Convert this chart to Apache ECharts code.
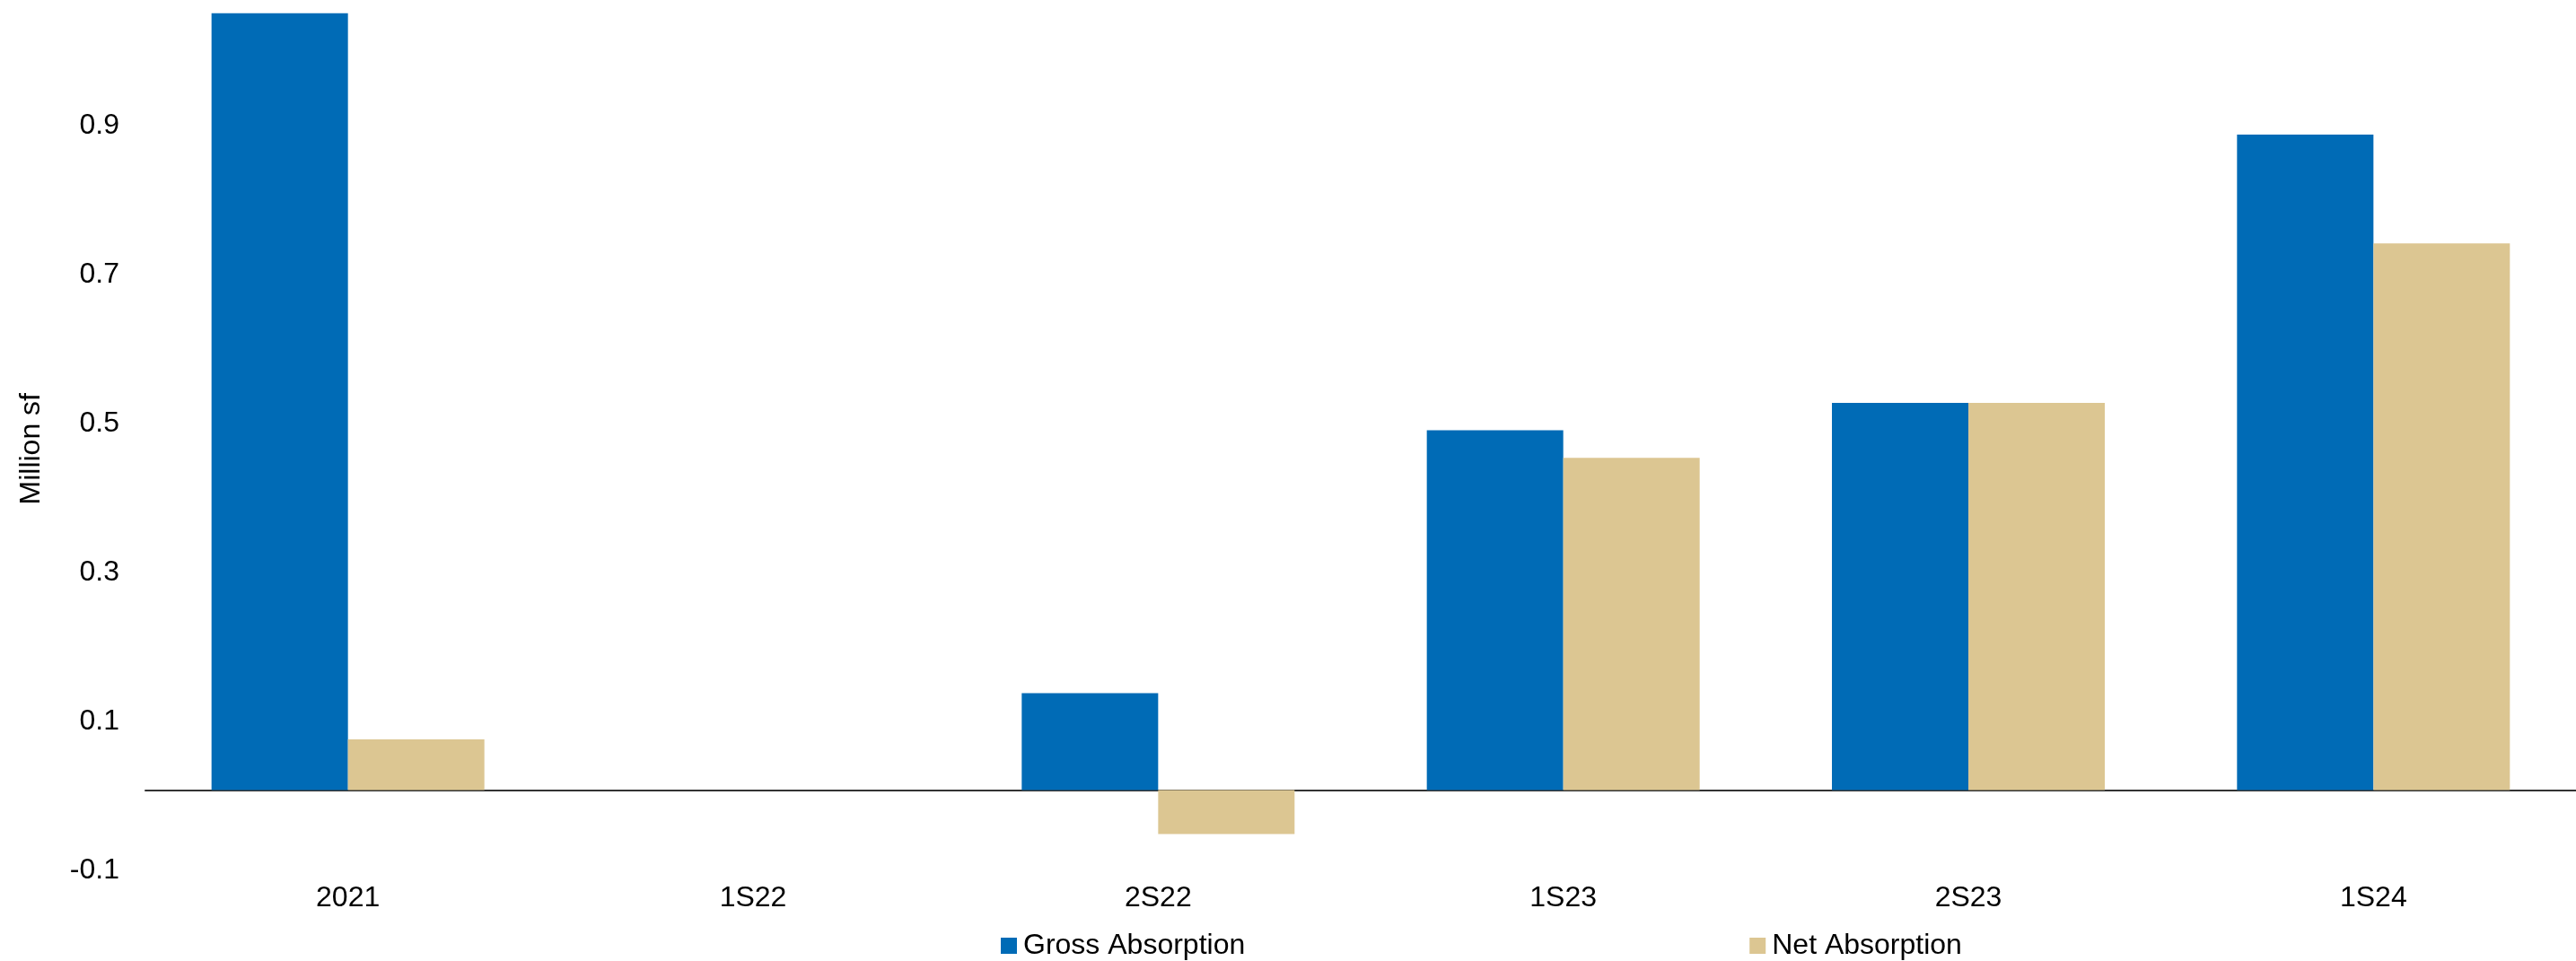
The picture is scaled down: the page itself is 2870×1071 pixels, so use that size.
<!DOCTYPE html>
<html>
<head>
<meta charset="utf-8">
<title>Gross and Net Absorption</title>
<script src="https://cdn.jsdelivr.net/npm/echarts@6/dist/echarts.min.js"></script>
<style>
  html, body { margin: 0; padding: 0; background: #ffffff; }
  #chart { width: 2870px; height: 1071px; }
</style>
</head>
<body>
<div id="chart"></div>
<script>
// Periods on the category axis
const periods = ['2021', '1S22', '2S22', '1S23', '2S23', '1S24'];

// Absorption, million square feet
const grossAbsorption = [1.043, 0, 0.130, 0.483, 0.520, 0.880];
const netAbsorption = [0.068, 0, -0.059, 0.446, 0.520, 0.734];

// Value axis ticks
const yMin = -0.1;
const yMax = 1.05;
const yStep = 0.2;

const FONT = '"Liberation Sans", Arial, sans-serif';
const BLUE = '#006BB6';
const TAN = '#DCC692';

const chart = echarts.init(document.getElementById('chart'), null, { renderer: 'canvas' });

chart.setOption({
  backgroundColor: '#ffffff',
  animation: false,
  textStyle: { fontFamily: FONT },
  grid: {
    left: 162,
    right: 0,
    top: 9,
    bottom: 107.5,
    containLabel: false,
    outerBoundsMode: 'none'
  },
  legend: {
    data: ['Gross Absorption', 'Net Absorption'],
    left: 1110,
    top: 1033,
    itemWidth: 18,
    itemHeight: 18,
    itemGap: 562,
    icon: 'rect',
    textStyle: { fontFamily: FONT, fontSize: 32, color: '#000000', padding: [0, 0, 0, 2] }
  },
  xAxis: {
    type: 'category',
    data: periods,
    axisLine: { show: true, onZero: true, lineStyle: { color: '#333333', width: 2 } },
    axisTick: { show: false },
    axisLabel: { margin: 22, fontFamily: FONT, fontSize: 32, color: '#000000' },
    splitLine: { show: false }
  },
  yAxis: {
    type: 'value',
    min: yMin,
    max: yMax,
    interval: yStep,
    name: 'Million sf',
    nameLocation: 'middle',
    nameGap: 111,
    nameTextStyle: { fontFamily: FONT, fontSize: 32, color: '#000000', padding: [0, 28, 0, 0] },
    axisLine: { show: false },
    axisTick: { show: false },
    splitLine: { show: false },
    axisLabel: {
      showMaxLabel: false,
      margin: 29,
      fontFamily: FONT,
      fontSize: 32,
      color: '#000000',
      verticalAlign: 'top',
      lineHeight: 14,
      formatter: function (v) { return (Math.round(v * 10) / 10).toString(); }
    }
  },
  series: [
    {
      name: 'Gross Absorption',
      type: 'bar',
      data: grossAbsorption,
      barWidth: 152,
      barGap: '0%',
      itemStyle: { color: BLUE }
    },
    {
      name: 'Net Absorption',
      type: 'bar',
      data: netAbsorption,
      barWidth: 152,
      barGap: '0%',
      itemStyle: { color: TAN }
    }
  ]
});
</script>
</body>
</html>
